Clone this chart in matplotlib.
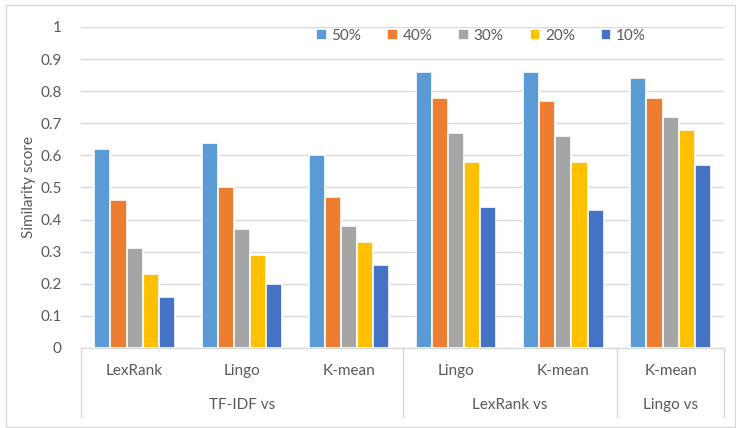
import numpy as np
import matplotlib
matplotlib.use("Agg")
import matplotlib.pyplot as plt
from matplotlib.transforms import blended_transform_factory
from matplotlib.patches import Rectangle

plt.rcParams["font.family"] = ["Lato", "DejaVu Sans"]

categories = ["LexRank", "Lingo", "K-mean", "Lingo", "K-mean", "K-mean"]
groups = ["TF-IDF vs", "LexRank vs", "Lingo vs"]
group_sizes = [3, 2, 1]
series = ["50%", "40%", "30%", "20%", "10%"]
values = {
    "50%": [0.62, 0.64, 0.60, 0.86, 0.86, 0.84],
    "40%": [0.46, 0.50, 0.47, 0.78, 0.77, 0.78],
    "30%": [0.31, 0.37, 0.38, 0.67, 0.66, 0.72],
    "20%": [0.23, 0.29, 0.33, 0.58, 0.58, 0.68],
    "10%": [0.16, 0.20, 0.26, 0.44, 0.43, 0.57],
}
colors = ["#5B9BD5", "#ED7D31", "#A5A5A5", "#FFC000", "#4472C4"]

text_col = "#595959"
grid_col = "#D9D9D9"
fs = 11

fig = plt.figure(figsize=(7.36, 4.28), dpi=100)
ax = fig.add_axes([0.110, 0.187, 0.874, 0.750])

x = np.arange(len(categories))
width = 0.15
for i, s in enumerate(series):
    ax.bar(x + (i - 2) * width, values[s], width, color=colors[i],
           edgecolor="white", linewidth=1.2, label=s, zorder=3)

ax.set_xlim(-0.5, len(categories) - 0.5)
ax.set_ylim(0, 1)
ax.set_yticks(np.arange(0, 1.01, 0.1))
ax.set_yticklabels(["0"] + ["%.1f" % v for v in np.arange(0.1, 0.95, 0.1)] + ["1"])
ax.yaxis.grid(True, color=grid_col, linewidth=1)
ax.set_axisbelow(True)
for side in ["top", "right", "left", "bottom"]:
    ax.spines[side].set_visible(False)
ax.tick_params(axis="y", length=0, pad=14, labelsize=fs, labelcolor=text_col)
ax.set_xticks([])
ax.set_ylabel("Similarity score", fontsize=fs, color=text_col, labelpad=3)

# two-level category axis
trans = blended_transform_factory(ax.transData, ax.transAxes)
ax.plot([-0.5, len(categories) - 0.5], [0, 0], color=grid_col, lw=1,
        transform=trans, clip_on=False)
for xi, c in zip(x, categories):
    ax.text(xi, -0.072, c, transform=trans, ha="center", va="center",
            fontsize=fs, color=text_col)
edges = np.concatenate([[0], np.cumsum(group_sizes)]) - 0.5
for e in edges:
    ax.plot([e, e], [0, -0.215], color=grid_col, lw=1, transform=trans,
            clip_on=False)
for g, a, b in zip(groups, edges[:-1], edges[1:]):
    ax.text((a + b) / 2, -0.178, g, transform=trans, ha="center", va="center",
            fontsize=fs, color=text_col)

leg = ax.legend(loc="center", bbox_to_anchor=(0.622, 0.972), ncol=5,
                frameon=False, fontsize=fs, handlelength=0.7,
                handleheight=0.7, handletextpad=0.3, columnspacing=1.7)
for t in leg.get_texts():
    t.set_color(text_col)

fig.patches.append(Rectangle((6 / 736, 1 / 428), 729 / 736, 422 / 428,
                             transform=fig.transFigure, fill=False,
                             edgecolor=grid_col, linewidth=1))

fig.savefig("out.png", dpi=100)
